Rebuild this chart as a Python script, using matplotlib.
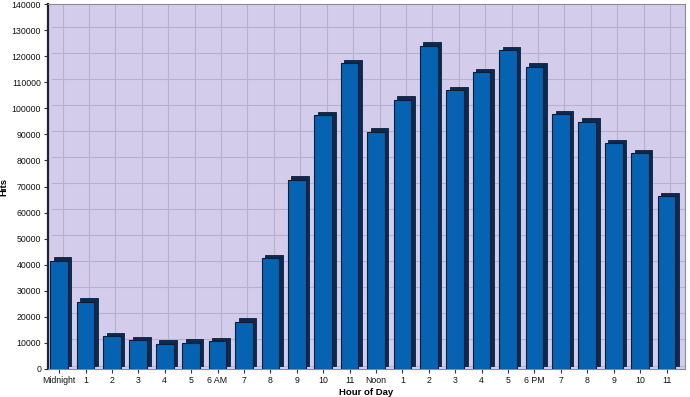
import matplotlib
matplotlib.use("Agg")
import matplotlib.pyplot as plt
import matplotlib.transforms as mtransforms

hours = ["Midnight", "1", "2", "3", "4", "5", "6 AM", "7", "8", "9", "10", "11",
         "Noon", "1", "2", "3", "4", "5", "6 PM", "7", "8", "9", "10", "11"]
hits = [41500, 25700, 12500, 11000, 9700, 10000, 10600, 18100, 42500, 72600, 97300, 117300,
        91000, 103300, 124000, 107000, 113800, 122300, 116000, 97700, 94800, 86600, 82800, 66300]
y_ticks = list(range(0, 140001, 10000))

FRONT = "#0663b2"
SIDE = "#0b2a4f"
EDGE = "#0a1e3a"
BG = "#d3cdeb"
GRID = "#b9b1cb"

plt.rcParams["font.family"] = ["Liberation Sans", "DejaVu Sans"]

fig = plt.figure(figsize=(6.9, 3.97), dpi=100)
ax = fig.add_axes([48 / 690, 28 / 397, 637 / 690, 365 / 397])
ax.set_facecolor(BG)

x = list(range(len(hours)))
depth = mtransforms.ScaledTranslation(3.5 / 100, 3.5 / 100, fig.dpi_scale_trans)

# back (depth) face, shifted a few pixels up-right
ax.bar(x, hits, width=0.67, color=SIDE, edgecolor=EDGE, linewidth=0.6,
       transform=ax.transData + depth, zorder=2)
# front face
ax.bar(x, hits, width=0.67, color=FRONT, edgecolor=EDGE, linewidth=0.8, zorder=3)

ax.set_xlim(-0.42, 23.7)
ax.set_ylim(0, 140000)
ax.set_yticks(y_ticks)
ax.set_yticklabels([str(v) for v in y_ticks])
ax.set_xticks(x)
ax.set_xticklabels(hours)
ax.tick_params(axis="both", labelsize=6.3, length=3, color="#333333",
               labelcolor="#111111", pad=2)

ax.grid(True, color=GRID, linewidth=0.8, zorder=0)
ax.set_axisbelow(True)
for gl in ax.get_xgridlines() + ax.get_ygridlines():
    gl.set_transform(gl.get_transform() + depth)

for side in ["top", "right", "bottom"]:
    ax.spines[side].set_color("#8a8a9a")
    ax.spines[side].set_linewidth(0.8)
ax.spines["left"].set_color("#222233")
ax.spines["left"].set_linewidth(1.6)

ax.set_xlabel("Hour of Day", fontsize=6.8, fontweight="bold", labelpad=2)
ax.set_ylabel("Hits", fontsize=6.8, fontweight="bold")
ax.yaxis.set_label_coords(-0.062, 0.5)

fig.savefig("out.png", dpi=100)
